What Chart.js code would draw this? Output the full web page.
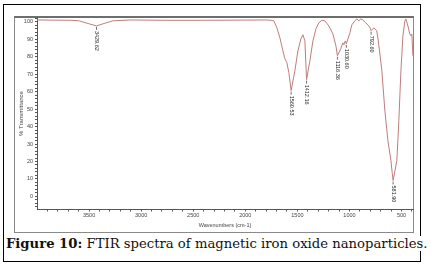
<!DOCTYPE html>
<html>
<head>
<meta charset="utf-8">
<script src="https://cdn.jsdelivr.net/npm/chart.js@4.4.1/dist/chart.umd.min.js"></script>
<style>
  html, body { margin: 0; padding: 0; background: #fff; }
  #wrap { position: relative; width: 434px; height: 266px; overflow: hidden; }
  #outer { position: absolute; left: 3px; top: 4px; width: 418px; height: 258px; border: 1.5px solid #000; box-sizing: border-box; }
  #frame { position: absolute; left: 14px; top: 16px; width: 400px; height: 217px; border: 1px solid #8a8a8a; border-top: 2px solid #6e6e6e; box-sizing: border-box; }
  #c { position: absolute; left: 0; top: 0; }
  #caption { position: absolute; left: 6px; top: 236px; font-family: "DejaVu Serif", serif; font-size: 13.2px; color: #111; white-space: nowrap; background: #fff; }
  #caption b { font-weight: bold; }
</style>
</head>
<body>
<div id="wrap">
  <div id="outer"></div>
  <div id="frame"></div>
  <canvas id="c" width="434" height="266"></canvas>
  <div id="caption"><b>Figure 10:</b> FTIR spectra of magnetic iron oxide nanoparticles.</div>
</div>
<script>
// spectrum (wavenumber cm-1, % transmittance)
const wavenumbers = [4000, 3865, 3674, 3597, 3501, 3429, 3338, 3270, 3098, 2800, 2426, 2042, 1802, 1754,
  1726, 1697, 1668, 1639, 1620, 1601, 1582, 1560, 1524, 1495, 1466, 1447, 1428, 1412, 1380, 1351, 1322,
  1294, 1265, 1236, 1198, 1159, 1130, 1116, 1083, 1064, 1054, 1040, 1030, 996, 977, 949, 929, 910, 891,
  872, 843, 814, 800, 792, 766, 738, 723, 689, 660, 631, 602, 590, 581, 562, 545, 526, 506, 487, 468,
  458, 439, 420, 410, 401, 391];
const transmittance = [101.1, 101.0, 100.9, 100.6, 98.9, 97.7, 99.4, 100.6, 101.1, 100.9, 100.9, 101.0, 101.1, 100.9,
  100.6, 96.6, 90.9, 83.4, 78.9, 76.6, 70.9, 60.6, 72.0, 83.4, 90.3, 92.6, 89.1, 66.9, 77.7, 89.1, 96.0,
  99.4, 100.9, 100.6, 97.7, 93.1, 86.3, 80.6, 84.6, 88.0, 86.9, 89.1, 87.4, 93.7, 98.3, 100.6, 101.7, 100.6, 101.7,
  101.1, 99.4, 97.7, 96.4, 94.9, 96.6, 94.9, 89.1, 72.0, 49.0, 32.0, 20.6, 13.7, 9.1, 15.0, 20.6, 43.4, 72.0, 92.0, 100.6,
  101.7, 97.7, 93.0, 92.0, 93.0, 80.6];

const peakLabels = ['3429.62', '1560.53', '1412.16', '1116.36', '1030.60', '792.60', '581.90'];
const peakPositions = [3429, 1560, 1412, 1116, 1030, 792, 581];

const xTickLabels = [3500, 3000, 2500, 2000, 1500, 1000, 500];
const yTickLabels = [0, 10, 20, 30, 40, 50, 60, 70, 80, 90, 100];

const tickFont = { family: 'Liberation Sans', size: 5.5 };

const points = wavenumbers.map((w, i) => ({ x: w, y: transmittance[i] }));

const peakPlugin = {
  id: 'peaks',
  afterDatasetsDraw(chart) {
    const { ctx, scales } = chart;
    ctx.save();
    ctx.strokeStyle = '#333';
    ctx.lineWidth = 0.7;
    ctx.fillStyle = '#222';
    ctx.font = '5.5px "Liberation Sans"';
    ctx.textBaseline = 'middle';
    peakPositions.forEach((w, i) => {
      const idx = wavenumbers.indexOf(w);
      const px = scales.x.getPixelForValue(w);
      const py = scales.y.getPixelForValue(transmittance[idx]);
      ctx.beginPath();
      ctx.moveTo(px, py + 1);
      ctx.lineTo(px, py + 4);
      ctx.stroke();
      ctx.save();
      ctx.translate(px, py + 5);
      ctx.rotate(Math.PI / 2);
      ctx.textAlign = 'left';
      ctx.fillText(peakLabels[i], 0, 0);
      ctx.restore();
    });
    ctx.restore();
  }
};

new Chart(document.getElementById('c'), {
  type: 'line',
  data: {
    datasets: [{
      data: points,
      borderColor: '#c07c7c',
      borderWidth: 1,
      pointRadius: 0,
      tension: 0,
      fill: false
    }]
  },
  options: {
    responsive: false,
    animation: false,
    events: [],
    layout: { padding: { left: 15, top: 17.5, right: 21, bottom: 32.5 } },
    plugins: { legend: { display: false }, tooltip: { enabled: false } },
    scales: {
      x: {
        type: 'linear',
        reverse: true,
        min: 390,
        max: 4000,
        afterBuildTicks: (s) => {
          const t = [];
          for (let v = 3900; v >= 400; v -= 100) t.push({ value: v });
          s.ticks = t;
        },
        afterFit: (s) => { s.height = 24; },
        border: { color: '#555', width: 1 },
        grid: { drawOnChartArea: false, tickLength: 2, color: '#555' },
        ticks: {
          autoSkip: false,
          maxRotation: 0,
          padding: 1,
          color: '#444',
          font: tickFont,
          callback: (v) => xTickLabels.includes(v) ? String(v) : ''
        },
        title: {
          display: true,
          text: 'Wavenumbers (cm-1)',
          color: '#444',
          font: { family: 'Liberation Sans', size: 5.5 },
          padding: { top: 0, bottom: 5 }
        }
      },
      y: {
        min: -7.5,
        max: 102.5,
        afterBuildTicks: (s) => {
          const t = [];
          for (let v = -6; v <= 102; v += 2) t.push({ value: v });
          s.ticks = t;
        },
        afterFit: (s) => { s.width = 22; },
        border: { color: '#555', width: 1 },
        grid: { drawOnChartArea: false, tickLength: 2, color: '#555' },
        ticks: {
          autoSkip: false,
          padding: 2,
          color: '#444',
          font: tickFont,
          callback: (v) => yTickLabels.includes(v) ? String(v) : ''
        },
        title: {
          display: true,
          text: '% Transmittance',
          color: '#444',
          font: { family: 'Liberation Sans', size: 6 },
          padding: { top: 2.4, bottom: 0 }
        }
      }
    }
  },
  plugins: [peakPlugin]
});
</script>
</body>
</html>
